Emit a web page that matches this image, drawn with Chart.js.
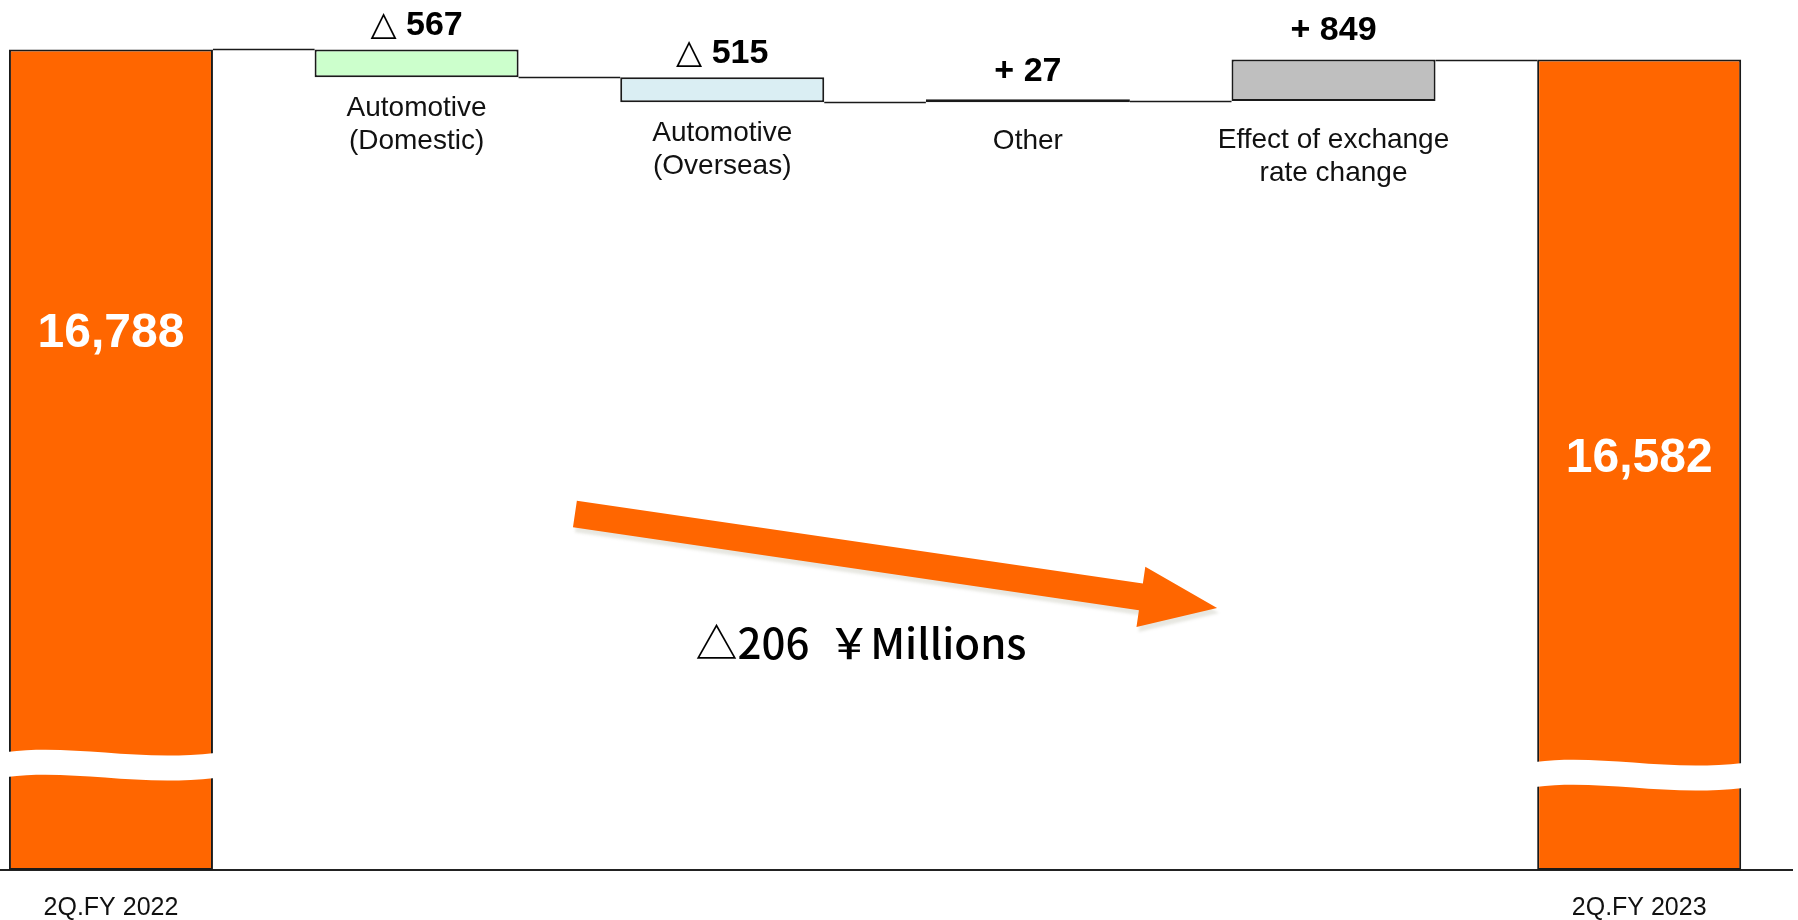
<!DOCTYPE html>
<html>
<head>
<meta charset="utf-8">
<title>Net sales bridge</title>
<script src="https://cdn.jsdelivr.net/npm/chart.js@4.4.1/dist/chart.umd.min.js"></script>
<style>
  html, body { margin: 0; padding: 0; background: #ffffff; overflow: hidden; }
  #wrap { width: 1798px; height: 920px; position: relative; }
</style>
</head>
<body>
<div id="wrap"><canvas id="bridge"></canvas></div>
<script>
// Net sales bridge between the two half-year periods, in ¥ millions
const periods = ['2Q.FY 2022', '2Q.FY 2023'];
const periodTotals = [16788, 16582];
const factorNames = [
  ['Automotive', '(Domestic)'],
  ['Automotive', '(Overseas)'],
  ['Other'],
  ['Effect of exchange', 'rate change']
];
const factorChanges = [-567, -515, 27, 849];

const ORANGE = '#ff6600';
const factorColors = ['#ccffcc', '#daeef3', '#111111', '#bfbfbf'];
const LATIN = '"Liberation Sans", Arial, "DejaVu Sans", sans-serif';
const CJK = '"Noto Sans CJK JP", "Noto Sans CJK SC", sans-serif';

// Floating ranges for the waterfall: opening total, each factor, closing total
const ranges = [];
const levels = [];
let running = periodTotals[0];
ranges.push([0, running]);
levels.push(running);
factorChanges.forEach(d => {
  const next = running + d;
  ranges.push([Math.min(running, next), Math.max(running, next)]);
  running = next;
  levels.push(running);
});
ranges.push([0, periodTotals[1]]);

const barData = ranges.map((r, i) => ({ x: i, y: r }));
const barColors = [ORANGE, ...factorColors, ORANGE];
const changeText = d => (d < 0 ? '\u25B3 ' + Math.abs(d) : '+ ' + d);
const netChange = periodTotals[1] - periodTotals[0];
const netText = (netChange < 0 ? '\u25B3' : '+') + Math.abs(netChange) + '  \uFFE5Millions';

const bridgeDecor = {
  id: 'bridgeDecor',
  beforeDatasetsDraw(chart) {
    const { ctx, scales: { y } } = chart;
    const bars = chart.getDatasetMeta(0).data;
    ctx.save();
    ctx.strokeStyle = '#1a1a1a';
    ctx.lineWidth = 1.5;
    for (let i = 0; i < levels.length; i++) {
      const a = bars[i], b = bars[i + 1];
      const py = Math.round(y.getPixelForValue(levels[i])) + 0.5;
      ctx.beginPath();
      ctx.moveTo(a.x + a.width / 2, py);
      ctx.lineTo(b.x - b.width / 2, py);
      ctx.stroke();
    }
    ctx.restore();
  },
  afterDatasetsDraw(chart, args, opts) {
    const { ctx, scales: { x, y } } = chart;
    const bars = chart.getDatasetMeta(0).data;
    const last = bars.length - 1;
    ctx.save();

    // wavy break bands across the two total bars
    [0, last].forEach((idx, k) => {
      const bar = bars[idx];
      const l = bar.x - bar.width / 2 - 2, r = bar.x + bar.width / 2 + 2, w = r - l;
      const c = y.getPixelForValue(opts.breakLevels[k]);
      const h = 12.5;
      ctx.beginPath();
      ctx.moveTo(l, c - h);
      ctx.bezierCurveTo(l + w * 0.33, c - h - 8, l + w * 0.62, c - h + 10, r, c - h + 1);
      ctx.lineTo(r, c + h + 1);
      ctx.bezierCurveTo(l + w * 0.62, c + h + 10, l + w * 0.33, c + h - 8, l, c + h);
      ctx.closePath();
      ctx.fillStyle = '#ffffff';
      ctx.fill();
    });

    // totals inside the orange bars
    ctx.fillStyle = '#ffffff';
    ctx.font = 'bold 48px ' + LATIN;
    ctx.textAlign = 'center';
    ctx.textBaseline = 'middle';
    [0, last].forEach((idx, k) => {
      ctx.fillText(periodTotals[k].toLocaleString('en-US'), bars[idx].x, y.getPixelForValue(opts.totalLabelLevels[k]));
    });

    // change amounts above and factor names below each floating bar
    factorChanges.forEach((d, k) => {
      const bar = bars[k + 1];
      const r = ranges[k + 1];
      const top = y.getPixelForValue(r[1]);
      const bottom = y.getPixelForValue(r[0]);
      ctx.fillStyle = '#000000';
      ctx.font = 'bold 34px ' + LATIN;
      ctx.fillText(changeText(d), bar.x, top - (d < 0 ? 24 : 29));
      ctx.fillStyle = '#111111';
      ctx.font = '28px ' + LATIN;
      factorNames[k].forEach((line, j) => {
        ctx.fillText(line, bar.x, bottom + (d < 0 ? 31 : 39) + j * 33);
      });
    });

    // trend arrow with a faint drop shadow
    const a = opts.arrow;
    const x0 = x.getPixelForValue(a.from[0]), y0 = y.getPixelForValue(a.from[1]);
    const x1 = x.getPixelForValue(a.to[0]), y1 = y.getPixelForValue(a.to[1]);
    const len = Math.hypot(x1 - x0, y1 - y0);
    const ang = Math.atan2(y1 - y0, x1 - x0);
    ctx.translate(x0, y0);
    ctx.rotate(ang);
    ctx.shadowColor = 'rgba(120, 120, 90, 0.18)';
    ctx.shadowOffsetX = 2;
    ctx.shadowOffsetY = 5;
    ctx.shadowBlur = 3;
    ctx.beginPath();
    ctx.moveTo(0, -a.shaft);
    ctx.lineTo(len - a.headLen, -a.shaft);
    ctx.lineTo(len - a.headLen, -a.head);
    ctx.lineTo(len, 0);
    ctx.lineTo(len - a.headLen, a.head);
    ctx.lineTo(len - a.headLen, a.shaft);
    ctx.lineTo(0, a.shaft);
    ctx.closePath();
    ctx.fillStyle = ORANGE;
    ctx.fill();
    ctx.setTransform(1, 0, 0, 1, 0, 0);
    ctx.shadowColor = 'transparent';

    // net change caption
    ctx.fillStyle = '#000000';
    ctx.font = '500 42px ' + CJK;
    ctx.textAlign = 'center';
    ctx.textBaseline = 'middle';
    ctx.fillText(netText, x.getPixelForValue(opts.caption[0]), y.getPixelForValue(opts.caption[1]));
    ctx.restore();
  }
};

new Chart(document.getElementById('bridge'), {
  type: 'bar',
  data: {
    datasets: [{
      data: barData,
      backgroundColor: barColors,
      borderColor: '#1a1a1a',
      borderWidth: 2,
      borderSkipped: false,
      minBarLength: 3,
      categoryPercentage: 1,
      barPercentage: 0.6675
    }]
  },
  options: {
    responsive: true,
    maintainAspectRatio: false,
    animation: false,
    layout: { padding: { left: 0, right: 6, top: 0, bottom: 0 } },
    plugins: {
      legend: { display: false },
      tooltip: { enabled: false },
      bridgeDecor: {
        breakLevels: [2160, 1955],
        totalLabelLevels: [10970, 8410],
        arrow: { from: [1.518, 7284], to: [3.619, 5360], shaft: 13.5, head: 30.5, headLen: 77 },
        caption: [2.454, 4645]
      }
    },
    scales: {
      x: {
        type: 'linear',
        offset: false,
        min: -0.363,
        max: 5.5,
        afterBuildTicks: s => { s.ticks = [{ value: 0 }, { value: 5 }]; },
        afterFit: s => { s.height = 50; },
        grid: { display: false, drawTicks: false },
        border: { display: true, color: '#222222', width: 2 },
        ticks: {
          padding: 23,
          maxRotation: 0,
          autoSkip: false,
          color: '#111111',
          font: { family: LATIN, size: 25 },
          callback: v => (v === 0 ? periods[0] : v === 5 ? periods[1] : '')
        }
      },
      y: {
        display: false,
        min: 0,
        max: 17800
      }
    }
  },
  plugins: [bridgeDecor]
});
</script>
</body>
</html>
